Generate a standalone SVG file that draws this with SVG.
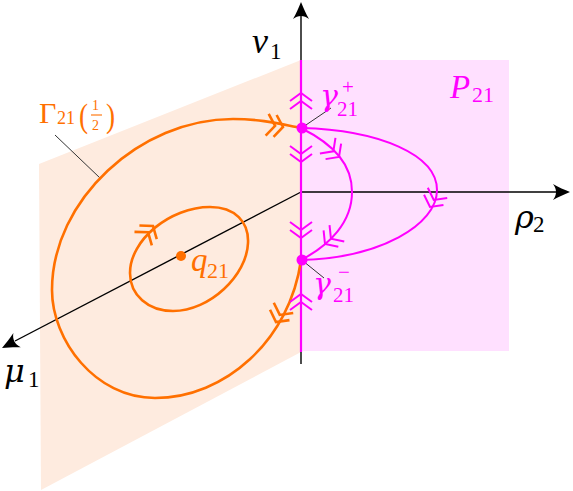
<svg xmlns="http://www.w3.org/2000/svg" xmlns:xlink="http://www.w3.org/1999/xlink" width="573" height="491" viewBox="0 0 573 491">
<style>
.ax{stroke:#000;stroke-width:1.4;fill:none}
.org{stroke:#FF7000;stroke-width:2.6;fill:none}
.mag{stroke:#FF00FF;stroke-width:2;fill:none}
.ldr{stroke:#333;stroke-width:1;fill:none}
.m{font-family:"Liberation Serif","DejaVu Serif",serif;font-style:italic}
.g{font-family:"DejaVu Serif","Liberation Serif",serif;font-style:italic}
.n{font-family:"Liberation Serif","DejaVu Serif",serif;font-style:normal}
.ot{fill:#FF7000}
.mt{fill:#FF00FF}
.bt{fill:#000}
</style>
<defs>
<path id="ah" d="M0,0 C-5,-2 -12,-5 -17,-8 C-13,-3 -13,3 -17,8 C-12,5 -5,2 0,0 Z" fill="#000"/>
<path id="chev" d="M-8,-11 L0,0 L-8,11 M-16,-11 L-8,0 L-16,11"/>
</defs>

<g id="plane-mu-v">
<polygon points="301,60 39,164 41,490 301,352" fill="#FEEBDF"/>
</g>
<g id="plane-P21">
<rect x="301" y="60" width="208" height="291" fill="#FFE0FF"/>
</g>

<g id="axes">
<line class="ax" x1="301" y1="192" x2="556" y2="192"/>
<use xlink:href="#ah" transform="translate(570,192)"/>
<line class="ax" x1="301" y1="192" x2="15" y2="341"/>
<use xlink:href="#ah" transform="translate(2,348) rotate(152.5)"/>
<line class="ax" x1="301" y1="364" x2="301" y2="15"/>
<use xlink:href="#ah" transform="translate(301,2) rotate(-90)"/>
<line x1="301" y1="60" x2="301" y2="352" stroke="#FF00FF" stroke-width="2.2"/>
</g>

<g id="connectors">
<line class="ldr" x1="55" y1="135" x2="100" y2="178"/>
<line class="ldr" x1="303" y1="127" x2="331" y2="108"/>
<line class="ldr" x1="303" y1="261" x2="324" y2="278"/>
</g>

<g id="orbit-Gamma21">
<path class="org" d="M301,128 C280,124 262,119 233,119 C140,119 52,200 52,290 C52,340 95,398 155,398 C225,398 290,340 301,260"/>
<use xlink:href="#chev" class="org" stroke-width="2" transform="translate(283,127) rotate(8)"/>
<use xlink:href="#chev" class="org" stroke-width="2" transform="translate(276,322) rotate(118)"/>
</g>

<g id="orbit-inner">
<path class="org" d="M210,207 C235,207 249,222 248,243 C247,275 210,311 173,311 C148,311 130,295 130,273 C130,240 170,207 210,207 Z"/>
<use xlink:href="#chev" class="org" stroke-width="2" transform="translate(153,226) rotate(-52)"/>
</g>

<g id="orbits-P21">
<path class="mag" d="M301,128 C335,145 352,165 352,192 C352,222 330,245 301,260"/>
<path class="mag" d="M301,128 C380,130 437,155 437,190 C437,225 380,258 301,260"/>
<use xlink:href="#chev" class="mag" transform="translate(339,157) rotate(45)"/>
<use xlink:href="#chev" class="mag" transform="translate(325,244) rotate(138)"/>
<use xlink:href="#chev" class="mag" transform="translate(430,207) rotate(118)"/>
</g>

<g id="axis-arrows">
<use xlink:href="#chev" class="mag" transform="translate(301,93) rotate(-90)"/>
<use xlink:href="#chev" class="mag" transform="translate(301,162) rotate(90)"/>
<use xlink:href="#chev" class="mag" transform="translate(301,238) rotate(90)"/>
<use xlink:href="#chev" class="mag" transform="translate(301,294) rotate(-90)"/>
</g>

<g id="node-gamma-plus">
<circle cx="302" cy="128" r="5.5" fill="#FF00FF"/>
<text class="g mt" x="320" y="106" font-size="30">γ</text>
<text class="n mt" x="342" y="94" font-size="21">+</text>
<text class="n mt" x="337" y="116" font-size="21">21</text>
</g>

<g id="node-gamma-minus">
<circle cx="302" cy="260" r="5.5" fill="#FF00FF"/>
<text class="g mt" x="313" y="294" font-size="30">γ</text>
<text class="n mt" x="338" y="279" font-size="21">−</text>
<text class="n mt" x="333" y="302" font-size="21">21</text>
</g>

<g id="node-q21">
<circle cx="181" cy="256" r="5" fill="#FF7000"/>
<text class="m ot" x="191" y="271" font-size="33">q</text>
<text class="n ot" x="207" y="278" font-size="22">21</text>
</g>

<g id="label-Gamma">
<text class="n ot" x="39" y="123" font-size="30">Γ</text>
<text class="n ot" x="57" y="124" font-size="18">21</text>
<text class="n ot" x="79" y="127" font-size="34" transform="translate(79,127) scale(0.8,1) translate(-79,-127)">(</text>
<text class="n ot" x="92" y="110" font-size="14">1</text>
<line x1="91" y1="115" x2="102" y2="115" stroke="#FF7000" stroke-width="1.1"/>
<text class="n ot" x="92" y="130" font-size="14">2</text>
<text class="n ot" x="106" y="127" font-size="34" transform="translate(106,127) scale(0.8,1) translate(-106,-127)">)</text>
</g>

<g id="label-P21">
<text class="m mt" x="450" y="98" font-size="33">P</text>
<text class="n mt" x="472" y="102" font-size="22">21</text>
</g>

<g id="label-axes">
<text class="m bt" x="252" y="53" font-size="36">v</text>
<text class="n bt" x="270" y="59" font-size="23">1</text>
<text class="g bt" x="515" y="228" font-size="32">ρ</text>
<text class="n bt" x="533" y="232" font-size="23">2</text>
<text class="g bt" x="4" y="382" font-size="32">μ</text>
<text class="n bt" x="28" y="387" font-size="23">1</text>
</g>
</svg>
